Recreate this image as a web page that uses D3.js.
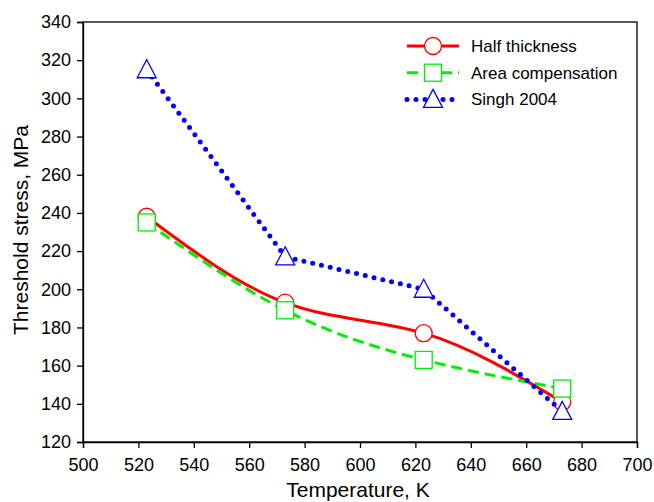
<!DOCTYPE html>
<html>
<head>
<meta charset="utf-8">
<script src="https://cdn.jsdelivr.net/npm/d3@7"></script>
<style>
  body { margin: 0; background: #fff; }
  svg { font-family: "Liberation Sans", Arial, sans-serif; }
  .axis path, .axis line { stroke: #000; stroke-width: 1.3; }
  .axis text { font-size: 18px; fill: #000; }
</style>
</head>
<body>
<div id="chart"></div>
<script>
var temps = [523, 573, 623, 673];
var halfThickness = [238, 193, 177, 141];
var areaComp = [235, 189, 163, 148];
var singh = [315, 217, 200, 136];
var xTicks = [500, 520, 540, 560, 580, 600, 620, 640, 660, 680, 700];
var yTicks = [120, 140, 160, 180, 200, 220, 240, 260, 280, 300, 320, 340];
var seriesNames = ["Half thickness", "Area compensation", "Singh 2004"];

var margin = {top: 22, right: 17, bottom: 60, left: 83};
var width = 654 - margin.left - margin.right;
var height = 502 - margin.top - margin.bottom;

var svg = d3.select("#chart")
  .append("svg")
  .attr("width", 654)
  .attr("height", 502)
  .append("g")
  .attr("transform", "translate(" + margin.left + "," + margin.top + ")");

var x = d3.scaleLinear().domain([500, 700]).range([0, width]);
var y = d3.scaleLinear().domain([120, 340]).range([height, 0]);

// frame
svg.append("rect")
  .attr("width", width).attr("height", height)
  .attr("fill", "none").attr("stroke", "#000").attr("stroke-width", 1.3);

svg.append("g")
  .attr("class", "axis")
  .attr("transform", "translate(0," + height + ")")
  .call(d3.axisBottom(x).tickValues(xTicks).tickSize(6).tickPadding(10).tickFormat(d3.format("d")));

svg.append("g")
  .attr("class", "axis")
  .call(d3.axisLeft(y).tickValues(yTicks).tickSize(6).tickPadding(6).tickFormat(d3.format("d")));

svg.append("text")
  .attr("x", width / 2 - 2).attr("y", height + 55)
  .attr("text-anchor", "middle").attr("font-size", 21)
  .text("Temperature, K");

svg.append("text")
  .attr("transform", "translate(-55," + (height / 2 - 2) + ") rotate(-90)")
  .attr("text-anchor", "middle").attr("font-size", 21)
  .text("Threshold stress, MPa");

var series = [
  {name: seriesNames[0], vals: halfThickness, color: "#ff0000", dash: null, curve: d3.curveNatural, shape: "circle"},
  {name: seriesNames[1], vals: areaComp, color: "#00ee00", dash: "11,6", curve: d3.curveNatural, shape: "square"},
  {name: seriesNames[2], vals: singh, color: "#0000ff", dash: "0,9", curve: d3.curveLinear, shape: "triangle"}
];

function drawMarker(g, shape, color) {
  if (shape == "circle") {
    g.append("circle").attr("r", 8.5);
  } else if (shape == "square") {
    g.append("rect").attr("x", -8.5).attr("y", -8.5).attr("width", 17).attr("height", 17);
  } else {
    g.append("path").attr("d", "M0,-10L9.5,8L-9.5,8Z");
  }
  g.selectAll("*").attr("fill", "#fff").attr("stroke", color).attr("stroke-width", 1.3);
}

series.forEach(function(s) {
  var pts = temps.map(function(t, i) { return [t, s.vals[i]]; });
  var line = d3.line()
    .x(function(d) { return x(d[0]); })
    .y(function(d) { return y(d[1]); })
    .curve(s.curve);

  svg.append("path")
    .datum(pts)
    .attr("d", line)
    .attr("fill", "none")
    .attr("stroke", s.color)
    .attr("stroke-width", s.shape == "triangle" ? 5 : 3)
    .attr("stroke-linecap", s.shape == "triangle" ? "round" : "butt")
    .attr("stroke-dasharray", s.dash);

  pts.forEach(function(p) {
    var g = svg.append("g").attr("transform", "translate(" + x(p[0]) + "," + y(p[1]) + ")");
    drawMarker(g, s.shape, s.color);
  });
});

// legend
var legend = svg.append("g").attr("transform", "translate(" + (407 - margin.left) + "," + (46 - margin.top) + ")");
series.forEach(function(s, i) {
  var row = legend.append("g").attr("transform", "translate(0," + (i * 26.7) + ")");
  row.append("line")
    .attr("x1", 0).attr("x2", 52)
    .attr("stroke", s.color)
    .attr("stroke-width", s.shape == "triangle" ? 5 : 3)
    .attr("stroke-linecap", s.shape == "triangle" ? "round" : "butt")
    .attr("stroke-dasharray", s.dash);
  var m = row.append("g").attr("transform", "translate(26,0)");
  drawMarker(m, s.shape, s.color);
  row.append("text")
    .attr("x", 64).attr("y", 6)
    .attr("font-size", 17)
    .text(s.name);
});
</script>
</body>
</html>
